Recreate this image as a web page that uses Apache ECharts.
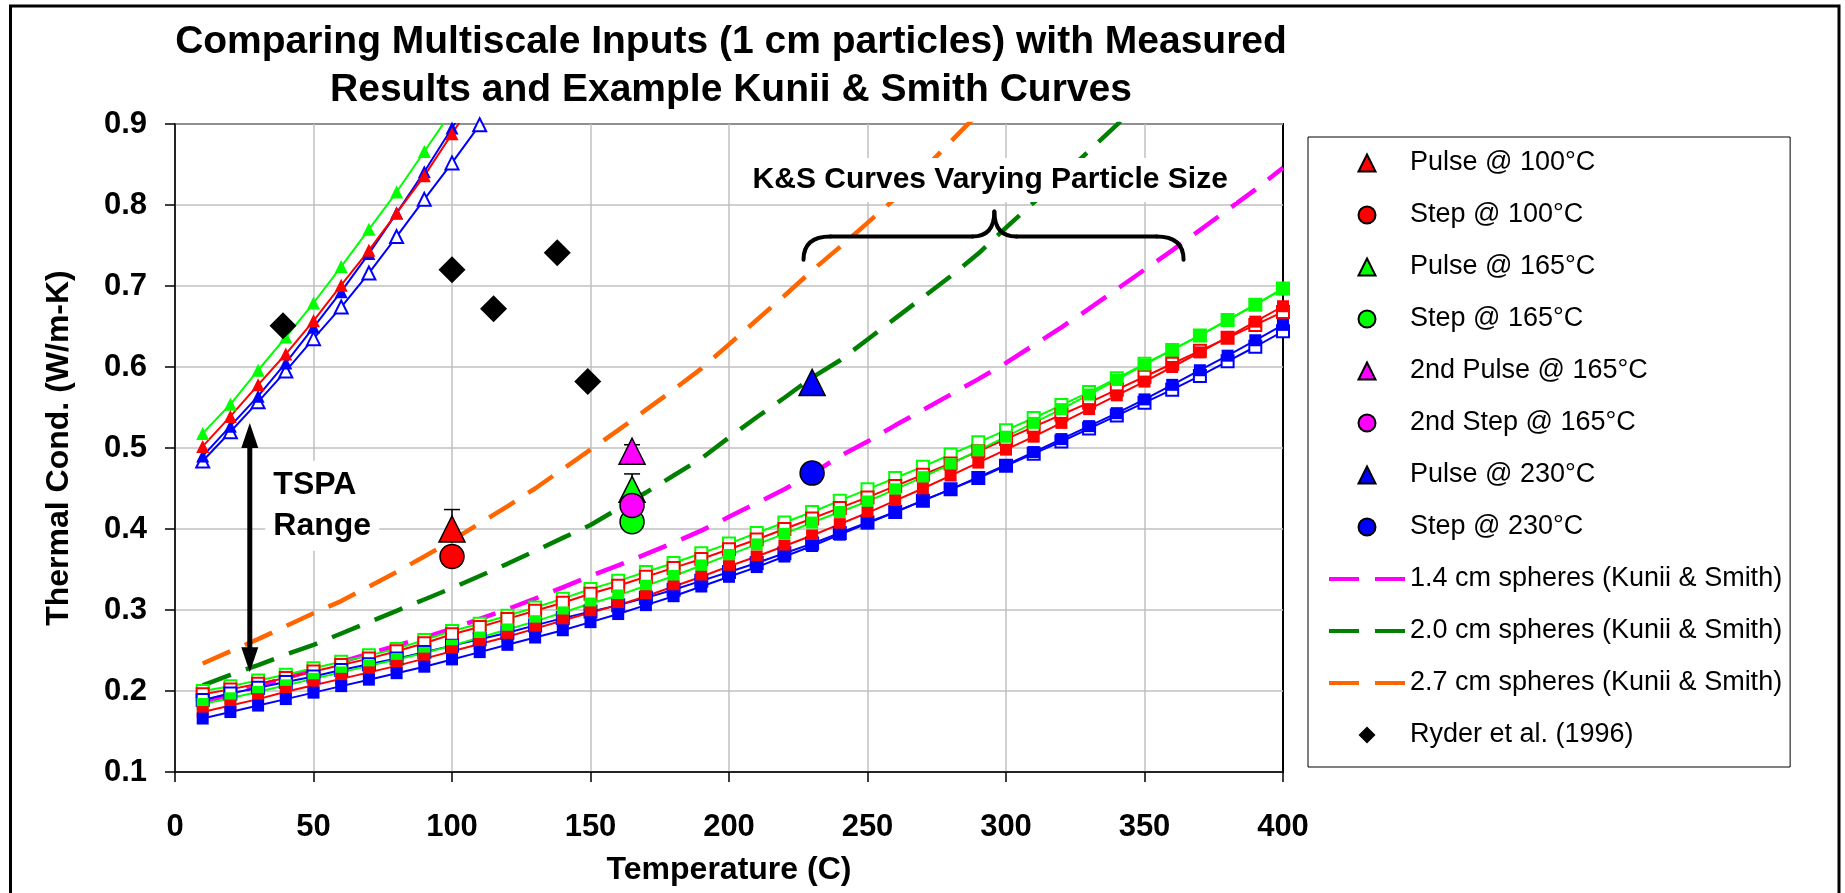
<!DOCTYPE html>
<html><head><meta charset="utf-8">
<script src="https://cdn.jsdelivr.net/npm/echarts@6/dist/echarts.min.js"></script>
<style>html,body{margin:0;padding:0;background:#fff}#c{width:1845px;height:893px}</style>
</head><body><div id="c"></div>
<script>
const FONT = '"Liberation Sans", Arial, Helvetica, sans-serif';
const titleLines = ['Comparing Multiscale Inputs (1 cm particles) with Measured', 'Results and Example Kunii & Smith Curves'];
const xAxisName = 'Temperature (C)';
const yAxisName = 'Thermal Cond. (W/m-K)';
const xTickLabels = ['0','50','100','150','200','250','300','350','400'];
const yTickLabels = ['0.1','0.2','0.3','0.4','0.5','0.6','0.7','0.8','0.9'];

// Multiscale model curves (not in legend)
const tempFull = [10,20,30,40,50,60,70,80,90,100,110,120,130,140,150,160,170,180,190,200,
                  210,220,230,240,250,260,270,280,290,300,310,320,330,340,350,360,370,380,390,400];
const msBlueFilledSq = [0.166,0.174,0.182,0.190,0.198,0.206,0.214,0.222,0.230,0.239,
                        0.248,0.257,0.266,0.275,0.285,0.295,0.306,0.317,0.329,0.341,
                        0.353,0.366,0.379,0.393,0.407,0.421,0.435,0.449,0.464,0.479,
                        0.495,0.511,0.527,0.543,0.560,0.578,0.596,0.614,0.633,0.652];
const msRedFilledSq = [0.174,0.182,0.190,0.199,0.207,0.215,0.223,0.231,0.240,0.249,
                       0.258,0.267,0.277,0.287,0.297,0.306,0.317,0.329,0.341,0.354,
                       0.366,0.379,0.392,0.406,0.420,0.435,0.450,0.466,0.482,0.498,
                       0.514,0.531,0.548,0.565,0.582,0.600,0.618,0.637,0.656,0.675];
const msGreenFilledSq = [0.184,0.191,0.199,0.207,0.215,0.223,0.231,0.239,0.247,0.256,
                         0.266,0.276,0.286,0.297,0.308,0.318,0.330,0.342,0.355,0.368,
                         0.381,0.394,0.408,0.421,0.434,0.449,0.464,0.480,0.497,0.514,
                         0.531,0.548,0.566,0.584,0.603,0.621,0.639,0.658,0.677,0.696];
const msGreenOpenSq = [0.200,0.206,0.213,0.220,0.228,0.236,0.244,0.252,0.263,0.274,
                       0.283,0.293,0.303,0.314,0.326,0.336,0.347,0.358,0.370,0.382,
                       0.395,0.408,0.421,0.435,0.449,0.463,0.477,0.492,0.507,0.522,
                       0.537,0.553,0.569,0.586,0.604,0.621,0.639,0.658,0.677,0.697];
const msRedOpenSq = [0.196,0.202,0.209,0.216,0.224,0.232,0.240,0.249,0.259,0.270,
                     0.279,0.289,0.299,0.309,0.320,0.330,0.341,0.352,0.363,0.375,
                     0.387,0.400,0.413,0.426,0.439,0.453,0.467,0.481,0.496,0.511,
                     0.526,0.541,0.556,0.572,0.588,0.604,0.620,0.636,0.652,0.668];
const msBlueOpenSq = [0.189,0.197,0.204,0.211,0.218,0.226,0.233,0.240,0.248,0.256,
                      0.264,0.272,0.281,0.290,0.298,0.306,0.315,0.325,0.336,0.347,
                      0.358,0.370,0.382,0.395,0.408,0.421,0.435,0.449,0.463,0.478,
                      0.493,0.508,0.524,0.540,0.556,0.572,0.589,0.607,0.625,0.644];
const tempSteep = [10,20,30,40,50,60,70,80,90,100,110];
const msGreenTri = [0.518,0.554,0.596,0.637,0.679,0.724,0.770,0.816,0.866,0.916,0.968];
const msRedTri = [0.502,0.539,0.578,0.616,0.657,0.701,0.744,0.790,0.836,0.888,0.940];
const msBlueTri = [0.490,0.527,0.564,0.605,0.649,0.693,0.740,0.790,0.841,0.895,0.950];
const msBlueOpenTri = [0.484,0.520,0.557,0.595,0.635,0.674,0.716,0.761,0.807,0.852,0.899];

// Kunii & Smith curves
const ksNames = ['1.4 cm spheres (Kunii & Smith)','2.0 cm spheres (Kunii & Smith)','2.7 cm spheres (Kunii & Smith)'];
const ks14 = [0.186,0.196,0.206,0.216,0.226,0.236,0.246,0.256,0.266,0.277,
              0.289,0.301,0.314,0.328,0.342,0.355,0.369,0.383,0.398,0.415,
              0.432,0.449,0.468,0.490,0.508,0.528,0.547,0.566,0.585,0.605,
              0.627,0.649,0.672,0.696,0.720,0.744,0.769,0.794,0.819,0.846];
const ks20 = [0.207,0.220,0.232,0.245,0.257,0.271,0.285,0.299,0.313,0.327,
              0.342,0.357,0.373,0.389,0.405,0.425,0.445,0.466,0.487,0.513,
              0.538,0.562,0.587,0.608,0.634,0.660,0.686,0.712,0.740,0.772,
              0.803,0.835,0.867,0.899,0.931];
const ks27 = [0.234,0.249,0.264,0.280,0.296,0.311,0.329,0.347,0.366,0.386,
              0.407,0.428,0.450,0.474,0.498,0.522,0.547,0.572,0.598,0.628,
              0.658,0.688,0.719,0.748,0.778,0.808,0.843,0.878,0.913,0.948];

// Measured points
const measuredNames = ['Pulse @ 100°C','Step @ 100°C','Pulse @ 165°C','Step @ 165°C','2nd Pulse @ 165°C','2nd Step @ 165°C','Pulse @ 230°C','Step @ 230°C'];
const measuredTemp = [100,100,165,165,165,165,230,230];
const measuredCond = [0.400,0.366,0.449,0.409,0.496,0.429,0.581,0.469];
const measuredColor = ['#FF0000','#FF0000','#00FF00','#00FF00','#FF00FF','#FF00FF','#0000FF','#0000FF'];
const measuredShape = ['triangle','circle','triangle','circle','triangle','circle','triangle','circle'];
// upper error bars
const errTemp = [100,165,165];
const errCond = [0.400,0.449,0.496];
const errHigh = [0.424,0.468,0.504];

// Ryder et al.
const ryderName = 'Ryder et al. (1996)';
const ryderTemp = [39,100,115,138,149];
const ryderCond = [0.651,0.720,0.672,0.741,0.582];

const pair = (xs, ys) => ys.map((y, i) => [xs[i], y]);

const chart = echarts.init(document.getElementById('c'), null, {renderer: 'canvas'});

function msSeries(name, xs, ys, color, symbol, size) {
  const empty = symbol.indexOf('empty') === 0;
  return {
    type: 'line', name: name, data: pair(xs, ys), symbol: symbol, symbolSize: size,
    showSymbol: true, clip: true, silent: true, z: 3,
    lineStyle: {color: color, width: 2},
    itemStyle: {color: color, borderColor: color, borderWidth: empty ? 2 : 0},
    emphasis: {disabled: true}
  };
}

const series = [];
const ksColors = ['#FF00FF','#008000','#FF6600'];
const ksDash = [30, 16];
[ks14, ks20, ks27].forEach((arr, i) => {
  series.push({
    type: 'line', name: ksNames[i], data: pair(tempFull, arr), symbol: 'none', clip: true, silent: true, z: 2,
    lineStyle: {color: ksColors[i], width: 4.5, type: ksDash}, itemStyle: {color: ksColors[i]},
    emphasis: {disabled: true}
  });
});
series.push(msSeries('ms-go', tempFull, msGreenOpenSq, '#00FF00', 'emptyRect', 12));
series.push(msSeries('ms-ro', tempFull, msRedOpenSq, '#FF0000', 'emptyRect', 12));
series.push(msSeries('ms-bo', tempFull, msBlueOpenSq, '#0000FF', 'emptyRect', 12));
series.push(msSeries('ms-gf', tempFull, msGreenFilledSq, '#00FF00', 'rect', 12));
series.push(msSeries('ms-rf', tempFull, msRedFilledSq, '#FF0000', 'rect', 12));
series.push(msSeries('ms-bf', tempFull, msBlueFilledSq, '#0000FF', 'rect', 12));
series.push(msSeries('ms-bot', tempSteep, msBlueOpenTri, '#0000FF', 'emptyTriangle', 13));
series.push(msSeries('ms-gt', tempSteep, msGreenTri, '#00FF00', 'triangle', 13));
series.push(msSeries('ms-bt', tempSteep, msBlueTri, '#0000FF', 'triangle', 13));
series.push(msSeries('ms-rt', tempSteep, msRedTri, '#FF0000', 'triangle', 13));

series.push({
  type: 'custom', name: 'errorbars', z: 4, silent: true,
  data: errTemp.map((t, i) => [t, errCond[i], errHigh[i]]),
  renderItem: (params, api) => {
    const p = api.coord([api.value(0), api.value(1)]);
    const h = api.coord([api.value(0), api.value(2)]);
    return {type: 'group', children: [
      {type: 'line', shape: {x1: p[0], y1: p[1], x2: h[0], y2: h[1]}, style: {stroke: '#000', lineWidth: 1.5}},
      {type: 'line', shape: {x1: h[0] - 8, y1: h[1], x2: h[0] + 8, y2: h[1]}, style: {stroke: '#000', lineWidth: 1.5}}
    ]};
  }
});
measuredNames.forEach((n, i) => {
  series.push({
    type: 'scatter', name: n, z: 5, silent: true,
    data: [[measuredTemp[i], measuredCond[i]]],
    symbol: measuredShape[i], symbolSize: measuredShape[i] === 'triangle' ? 26 : 24,
    itemStyle: {color: measuredColor[i], borderColor: '#000', borderWidth: 1.5, opacity: 1},
    emphasis: {disabled: true}
  });
});
series.push({
  type: 'scatter', name: ryderName, z: 5, silent: true,
  data: pair(ryderTemp, ryderCond), symbol: 'diamond', symbolSize: 27,
  itemStyle: {color: '#000', borderColor: '#000', borderWidth: 0, opacity: 1},
  emphasis: {disabled: true}
});

// legend icons (keep aspect so they are not stretched over itemWidth)
const triIcon = 'path://M5,0L10,10L0,10Z';
const diamondIcon = 'path://M5,0L10,5L5,10L0,5Z';
const legendData = measuredNames.map((n, i) => (measuredShape[i] === 'triangle' ? {name: n, icon: triIcon} : {name: n, icon: 'circle'}))
  .concat(ksNames.map((n, i) => ({
    name: n,
    itemStyle: {color: 'rgba(0,0,0,0)', borderColor: 'rgba(0,0,0,0)', borderWidth: 0, opacity: 0},
    lineStyle: {color: ksColors[i], width: 4, type: ksDash, opacity: 1}
  })))
  .concat([{name: ryderName, icon: diamondIcon}]);

chart.setOption({
  animation: false,
  backgroundColor: '#fff',
  grid: {left: 175, right: 562, top: 124, bottom: 121, show: true, borderColor: '#000', borderWidth: 2, backgroundColor: 'transparent'},
  xAxis: {
    type: 'value', min: 0, max: 400, interval: 50,
    name: xAxisName, nameLocation: 'middle', nameGap: 82,
    nameTextStyle: {fontFamily: FONT, fontWeight: 'bold', fontSize: 32, color: '#000'},
    axisLine: {show: true, onZero: false, lineStyle: {color: '#000', width: 1.5}},
    axisTick: {show: true, inside: false, length: 10, lineStyle: {color: '#000', width: 1.5}},
    axisLabel: {fontFamily: FONT, fontWeight: 'bold', fontSize: 31, color: '#000', margin: 40,
      formatter: v => xTickLabels[Math.round(v / 50)]},
    splitLine: {show: true, showMaxLine: false, lineStyle: {color: '#C0C0C0', width: 1.5}}
  },
  yAxis: {
    type: 'value', min: 0.1, max: 0.9, interval: 0.1,
    name: yAxisName, nameLocation: 'middle', nameGap: 100,
    nameTextStyle: {fontFamily: FONT, fontWeight: 'bold', fontSize: 32, color: '#000'},
    axisLine: {show: true, onZero: false, lineStyle: {color: '#000', width: 1.5}},
    axisTick: {show: true, inside: false, length: 10, lineStyle: {color: '#000', width: 1.5}},
    axisLabel: {fontFamily: FONT, fontWeight: 'bold', fontSize: 31, color: '#000', margin: 28,
      formatter: v => yTickLabels[Math.round(v * 10) - 1]},
    splitLine: {show: true, lineStyle: {color: '#C0C0C0', width: 1.5}}
  },
  legend: {
    data: legendData, orient: 'vertical', left: 1308, top: 137,
    padding: [11, 8, 17, 19], itemWidth: 76, itemHeight: 17, itemGap: 22,
    symbolKeepAspect: true,
    borderColor: '#000', borderWidth: 1, backgroundColor: '#fff',
    selectedMode: false,
    textStyle: {fontFamily: FONT, fontSize: 27, lineHeight: 30, color: '#000'}
  },
  series: series
});

// Annotations anchored in data coordinates
const tspaArrow = {temp: 27, low: 0.223, high: 0.531};
const tspaText = {temp: 35.5, cond: 0.4288, text: 'TSPA\nRange'};
const ksText = {temp: 294.3, cond: 0.831, text: 'K&S Curves Varying Particle Size'};
const brace = {left: 226.9, right: 364.1, tip: 295.8, endCond: 0.7325, barCond: 0.7612, tipCond: 0.7921};

const px = (x, y) => chart.convertToPixel({gridIndex: 0}, [x, y]);
const aTop = px(tspaArrow.temp, tspaArrow.high);
const aBot = px(tspaArrow.temp, tspaArrow.low);
const tPos = px(tspaText.temp, tspaText.cond);
const kPos = px(ksText.temp, ksText.cond);
const bL = px(brace.left, brace.endCond);
const bR = px(brace.right, brace.endCond);
const bT = px(brace.tip, brace.tipCond);
const barY = px(brace.tip, brace.barCond)[1];
const braceStyle = {stroke: '#000', lineWidth: 4, fill: null, lineCap: 'round'};
const braceParts = [
  {type: 'bezierCurve', shape: {x1: bL[0], y1: bL[1], cpx1: bL[0], cpy1: barY, x2: bL[0] + 27, y2: barY}},
  {type: 'line', shape: {x1: bL[0] + 27, y1: barY, x2: bT[0] - 22, y2: barY}},
  {type: 'bezierCurve', shape: {x1: bT[0] - 22, y1: barY, cpx1: bT[0], cpy1: barY, x2: bT[0], y2: bT[1]}},
  {type: 'bezierCurve', shape: {x1: bT[0], y1: bT[1], cpx1: bT[0], cpy1: barY, x2: bT[0] + 22, y2: barY}},
  {type: 'line', shape: {x1: bT[0] + 22, y1: barY, x2: bR[0] - 27, y2: barY}},
  {type: 'bezierCurve', shape: {x1: bR[0] - 27, y1: barY, cpx1: bR[0], cpy1: barY, x2: bR[0], y2: bR[1]}}
].map(e => Object.assign(e, {z: 150, silent: true, style: braceStyle}));

chart.setOption({
  graphic: [
    {type: 'rect', z: 200, silent: true, shape: {x: 10.5, y: 6, width: 1828.5, height: 950},
     style: {fill: null, stroke: '#000', lineWidth: 3}},
    {type: 'text', z: 200, silent: true, x: 731, y: 18.5,
     style: {text: titleLines.join('\n'), font: 'bold 39px ' + FONT, lineHeight: 48, align: 'center', verticalAlign: 'top', fill: '#000'}},
    {type: 'line', z: 150, silent: true, shape: {x1: aTop[0], y1: aTop[1] + 20, x2: aBot[0], y2: aBot[1] - 20},
     style: {stroke: '#000', lineWidth: 5}},
    {type: 'polygon', z: 150, silent: true, shape: {points: [[aTop[0], aTop[1]], [aTop[0] - 8.5, aTop[1] + 25], [aTop[0] + 8.5, aTop[1] + 25]]},
     style: {fill: '#000'}},
    {type: 'polygon', z: 150, silent: true, shape: {points: [[aBot[0], aBot[1]], [aBot[0] - 8.5, aBot[1] - 25], [aBot[0] + 8.5, aBot[1] - 25]]},
     style: {fill: '#000'}},
    {type: 'text', z: 150, silent: true, x: tPos[0] - 8, y: tPos[1],
     style: {text: tspaText.text, font: 'bold 32px ' + FONT, lineHeight: 41, align: 'left', verticalAlign: 'middle', fill: '#000',
             backgroundColor: '#fff', padding: [4, 8, 4, 8]}},
    {type: 'text', z: 150, silent: true, x: kPos[0], y: kPos[1],
     style: {text: ksText.text, font: 'bold 30px ' + FONT, align: 'center', verticalAlign: 'middle', fill: '#000',
             backgroundColor: '#fff', padding: [11, 8, 3, 8]}}
  ].concat(braceParts)
});
</script>
</body></html>
